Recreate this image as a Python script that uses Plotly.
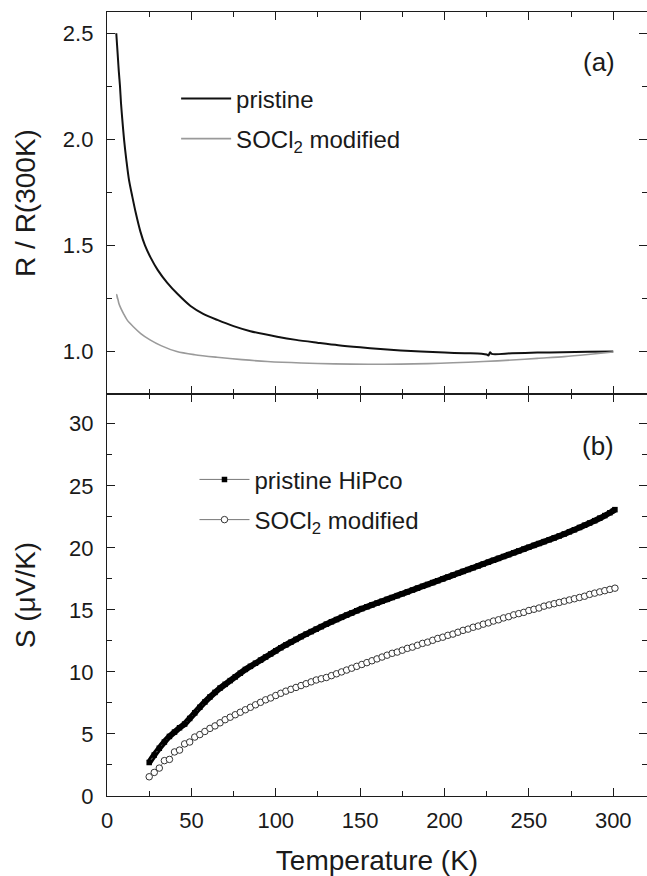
import plotly.graph_objects as go

# ---------------- data: panel (a) R/R(300K) ----------------
T_R_pristine = [5.5, 6.0, 6.5, 7.0, 7.7, 8.3, 9.0, 10.1, 11.5, 13.0, 15.0, 17.0, 19.8, 22.5,
                25.7, 30.0, 35.6, 42.0, 49.5, 57.0, 65.4, 75.0, 85.0, 100.8, 112.0, 124.6,
                137.0, 150.0, 162.0, 174.0, 186.0, 200.0, 212.0, 222.0, 225.0, 226.0, 227.0,
                228.0, 240.0, 255.0, 270.0, 285.0, 300.0]
R_pristine = [2.50, 2.44, 2.38, 2.32, 2.25, 2.17, 2.10, 2.00, 1.90, 1.81, 1.73, 1.655, 1.565, 1.50,
              1.445, 1.385, 1.325, 1.27, 1.215, 1.178, 1.149, 1.12, 1.096, 1.07, 1.055, 1.042,
              1.03, 1.02, 1.012, 1.005, 1.0, 0.995, 0.992, 0.99, 0.986, 0.981, 0.997,
              0.989, 0.992, 0.995, 0.997, 0.999, 1.0]

T_R_socl2 = [6.2, 5.7, 6.5, 7.0, 8.3, 9.7, 12.0, 15.6, 20.0, 25.5, 32.0, 41.4, 52.0, 65.2, 80.0,
             95.0, 115.0, 134.6, 155.0, 174.0, 190.0, 205.0, 223.0, 240.0, 255.0, 271.0, 285.0,
             300.0]
R_socl2 = [1.25, 1.268, 1.245, 1.228, 1.202, 1.18, 1.148, 1.117, 1.085, 1.055, 1.028, 1.0, 0.985,
           0.973, 0.962, 0.953, 0.946, 0.942, 0.94, 0.941, 0.943, 0.947, 0.953, 0.96, 0.968,
           0.976, 0.986, 0.998]

# ---------------- data: panel (b) thermopower S ----------------
T_S = [25, 28, 31, 34, 37, 40, 43, 46, 49, 52,
       55, 58, 61, 64, 67, 70, 73, 76, 79, 82,
       85, 88, 91, 94, 97, 100, 103, 106, 109, 112,
       115, 118, 121, 124, 127, 130, 133, 136, 139, 142,
       145, 148, 151, 154, 157, 160, 163, 166, 169, 172,
       175, 178, 181, 184, 187, 190, 193, 196, 199, 202,
       205, 208, 211, 214, 217, 220, 223, 226, 229, 232,
       235, 238, 241, 244, 247, 250, 253, 256, 259, 262,
       265, 268, 271, 274, 277, 280, 283, 286, 289, 292,
       295, 298, 301]
S_pristine = [2.70, 3.30, 3.85, 4.35, 4.80, 5.15, 5.50, 5.80, 6.25, 6.70,
              7.15, 7.58, 7.98, 8.35, 8.70, 9.00, 9.30, 9.60, 9.90, 10.20,
              10.45, 10.70, 10.95, 11.20, 11.45, 11.70, 11.95, 12.18, 12.40, 12.62,
              12.84, 13.05, 13.25, 13.45, 13.65, 13.85, 14.04, 14.22, 14.40, 14.58,
              14.75, 14.93, 15.10, 15.25, 15.40, 15.55, 15.70, 15.85, 16.00, 16.15,
              16.30, 16.45, 16.60, 16.75, 16.90, 17.05, 17.20, 17.35, 17.50, 17.65,
              17.80, 17.95, 18.10, 18.25, 18.40, 18.55, 18.70, 18.85, 19.00, 19.15,
              19.30, 19.45, 19.60, 19.75, 19.90, 20.05, 20.20, 20.35, 20.50, 20.65,
              20.80, 20.96, 21.12, 21.29, 21.46, 21.64, 21.82, 22.00, 22.19, 22.39,
              22.60, 22.83, 23.08]
S_socl2 = [1.55, 1.90, 2.25, 2.85, 2.95, 3.55, 3.70, 4.20, 4.35, 4.75,
           4.95, 5.20, 5.45, 5.65, 5.90, 6.15, 6.35, 6.55, 6.75, 6.95,
           7.15, 7.35, 7.55, 7.75, 7.90, 8.10, 8.28, 8.45, 8.60, 8.75,
           8.90, 9.05, 9.20, 9.35, 9.45, 9.55, 9.70, 9.85, 10.00, 10.15,
           10.30, 10.45, 10.60, 10.75, 10.90, 11.05, 11.20, 11.35, 11.50, 11.60,
           11.75, 11.90, 12.00, 12.15, 12.30, 12.40, 12.55, 12.70, 12.80, 12.95,
           13.05, 13.20, 13.35, 13.45, 13.60, 13.70, 13.85, 13.95, 14.10, 14.20,
           14.35, 14.45, 14.60, 14.70, 14.80, 14.95, 15.05, 15.15, 15.30, 15.40,
           15.50, 15.60, 15.70, 15.80, 15.90, 16.00, 16.10, 16.25, 16.35, 16.45,
           16.55, 16.65, 16.75]

assert len(T_R_pristine) == len(R_pristine)
assert len(T_R_socl2) == len(R_socl2)
assert len(T_S) == len(S_pristine) == len(S_socl2)

FONT = "Liberation Sans, Arial, Helvetica, sans-serif"
AX = "#1c1c1c"

fig = go.Figure()

# panel (a)
fig.add_trace(go.Scatter(x=T_R_pristine, y=R_pristine, xaxis="x2", yaxis="y2", mode="lines",
                         name="pristine", legend="legend", legendgroup="a1",
                         line=dict(color="#111111", width=2, shape="spline", smoothing=0.8)))
fig.add_trace(go.Scatter(x=T_R_socl2, y=R_socl2, xaxis="x2", yaxis="y2", mode="lines",
                         name="SOCl<sub>2</sub> modified", legend="legend", legendgroup="a2",
                         line=dict(color="#9a9a9a", width=1.6, shape="spline", smoothing=0.8)))

# panel (b): dense measured points form a solid band
fig.add_trace(go.Scatter(x=T_S, y=S_pristine, xaxis="x", yaxis="y", mode="lines",
                         showlegend=False, hoverinfo="skip",
                         line=dict(color="#000000", width=6, shape="spline", smoothing=0.6)))
fig.add_trace(go.Scatter(x=T_S, y=S_pristine, xaxis="x", yaxis="y", mode="lines+markers",
                         name="pristine HiPco", legend="legend2", legendgroup="b1",
                         line=dict(color="#777777", width=1),
                         marker=dict(symbol="square", size=5.5, color="#000000",
                                     line=dict(width=0, color="#000000"))))
fig.add_trace(go.Scatter(x=T_S, y=S_socl2, xaxis="x", yaxis="y", mode="lines+markers",
                         name="SOCl<sub>2</sub> modified", legend="legend2", legendgroup="b2",
                         line=dict(color="#777777", width=1),
                         marker=dict(symbol="circle", size=6.5, color="#ffffff",
                                     line=dict(width=1, color="#333333"))))

split = 402 / 784

common_x = dict(range=[0, 320], dtick=50, tick0=0, ticks="inside", ticklen=8, tickwidth=1.4,
                tickcolor=AX, showline=True, linecolor=AX, linewidth=1.4, mirror="ticks",
                showgrid=False, zeroline=False,
                minor=dict(dtick=25, ticks="inside", ticklen=5, tickwidth=1.2, tickcolor=AX))

common_y = dict(ticks="inside", ticklen=8, tickwidth=1.4, tickcolor=AX, showline=True,
                linecolor=AX, linewidth=1.4, mirror="ticks", showgrid=False, zeroline=False,
                tickfont=dict(size=22), ticklabelstandoff=8)

fig.update_layout(
    width=647, height=876,
    margin=dict(l=107, r=0, t=12, b=80),
    paper_bgcolor="white", plot_bgcolor="white",
    font=dict(family=FONT, color="#1a1a1a", size=22),
    xaxis=dict(**common_x, anchor="y", domain=[0, 1],
               tickfont=dict(size=22), ticklabelstandoff=4,
               title=dict(text="Temperature (K)", font=dict(size=28), standoff=19)),
    xaxis2=dict(**common_x, anchor="y2", matches="x", showticklabels=False),
    yaxis=dict(**common_y, domain=[0, split], range=[0, 32.4], dtick=5, tick0=0, anchor="x",
               minor=dict(dtick=2.5, ticks="inside", ticklen=5, tickwidth=1.2, tickcolor=AX),
               title=dict(text="S (μV/K)", font=dict(size=28), standoff=25)),
    yaxis2=dict(**common_y, domain=[split, 1], range=[0.8, 2.6], dtick=0.5, tick0=0,
                tickformat=".1f", anchor="x2",
                minor=dict(dtick=0.25, ticks="inside", ticklen=5, tickwidth=1.2, tickcolor=AX),
                title=dict(text="R / R(300K)", font=dict(size=28), standoff=19)),
    legend=dict(x=0.128, y=0.918, xanchor="left", yanchor="top", bgcolor="rgba(0,0,0,0)",
                font=dict(size=24), itemwidth=50, tracegroupgap=6, traceorder="grouped"),
    legend2=dict(x=0.162, y=0.432, xanchor="left", yanchor="top", bgcolor="rgba(0,0,0,0)",
                 font=dict(size=24), itemwidth=50, tracegroupgap=6, traceorder="grouped"),
    showlegend=True,
    annotations=[
        dict(text="(a)", x=0.912, y=0.936, xref="paper", yref="paper", showarrow=False,
             font=dict(size=26), xanchor="center", yanchor="middle"),
        dict(text="(b)", x=0.91, y=0.446, xref="paper", yref="paper", showarrow=False,
             font=dict(size=26), xanchor="center", yanchor="middle"),
    ],
)

fig.write_html("out.html", config={"displayModeBar": False},
               post_script="document.body.style.margin='0';")
